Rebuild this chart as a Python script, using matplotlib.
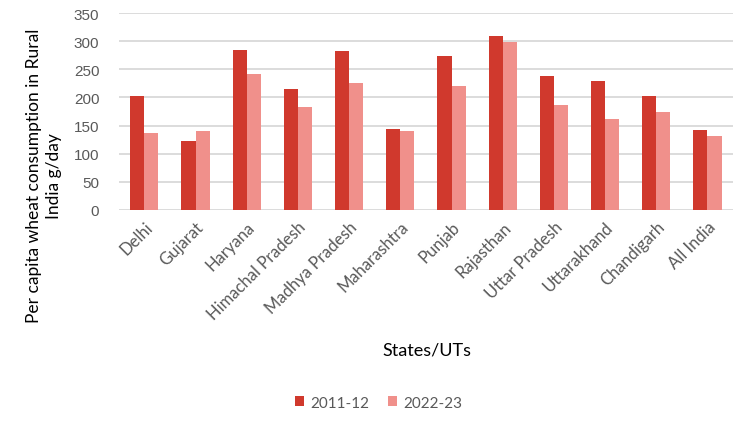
import matplotlib
matplotlib.use("Agg")
import matplotlib.pyplot as plt
import numpy as np

categories = ["Delhi", "Gujarat", "Haryana", "Himachal Pradesh", "Madhya Pradesh",
              "Maharashtra", "Punjab", "Rajasthan", "Uttar Pradesh", "Uttarakhand",
              "Chandigarh", "All India"]
values_2011 = [202, 122, 284, 215, 282, 144, 273, 309, 238, 229, 202, 142]
values_2022 = [136, 140, 241, 183, 225, 140, 220, 298, 186, 161, 174, 131]
series_labels = ["2011-12", "2022-23"]
yticks = [0, 50, 100, 150, 200, 250, 300, 350]

c_red = "#D0392D"
c_pink = "#F0908B"
gray = "#595959"

fig = plt.figure(figsize=(7.42, 4.27), dpi=100)
ax = fig.add_axes([0.160, 0.506, 0.828, 0.461])

x = np.arange(len(categories))
w = 0.275
ax.bar(x - w / 2, values_2011, width=w, color=c_red, label=series_labels[0], zorder=3)
ax.bar(x + w / 2, values_2022, width=w, color=c_pink, label=series_labels[1], zorder=3)

ax.set_xlim(-0.5, len(categories) - 0.5)
ax.set_ylim(0, 350)
ax.set_yticks(yticks)
ax.yaxis.grid(True, color="#D9D9D9", linewidth=1.3, zorder=0)
ax.set_axisbelow(True)
for s in ["top", "right", "left", "bottom"]:
    ax.spines[s].set_visible(False)
ax.tick_params(axis="both", length=0)
ax.tick_params(axis="y", labelsize=11, labelcolor=gray, pad=14)
for lab in ax.get_yticklabels():
    lab.set_family("Liberation Sans")

ax.set_xticks(x)
ax.set_xticklabels(categories, rotation=45, ha="right", rotation_mode="anchor",
                   fontsize=12, color=gray, family="Lato")
ax.tick_params(axis="x", pad=6)

fig.text(0.059, 0.588, "Per capita wheat consumption in Rural\nIndia g/day", fontsize=12.5,
         family="Lato", color="black", rotation=90, ha="center", va="center",
         multialignment="center", linespacing=1.35)

fig.text(0.575, 0.178, "States/UTs", fontsize=13, family="Lato", ha="center", va="center")

fig.legend(loc="center", bbox_to_anchor=(0.51, 0.055), ncol=2, frameon=False,
           prop={"family": "Lato", "size": 11}, labelcolor=gray,
           handlelength=0.6, handleheight=0.6, handletextpad=0.4, columnspacing=1.2)

fig.savefig("out.png", dpi=100)
